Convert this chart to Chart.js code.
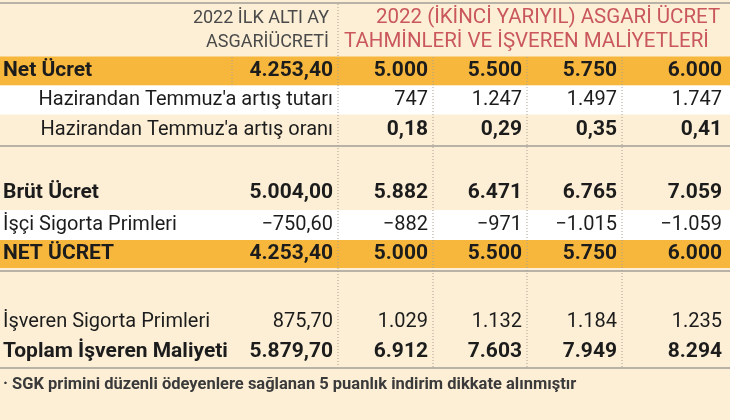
<!DOCTYPE html>
<html><head><meta charset="utf-8">
<script src="https://cdn.jsdelivr.net/npm/chart.js@4/dist/chart.umd.min.js"></script>
<style>html,body{margin:0;padding:0;background:#fcefd6}#wrap{width:730px;height:420px}</style>
</head><body><div id="wrap"><canvas id="c"></canvas></div>
<script>
// table data
const headerLeft = ['2022 İLK ALTI AY','ASGARİÜCRETİ'];
const headerRight = ['2022 (İKİNCİ YARIYIL) ASGARİ ÜCRET','TAHMİNLERİ VE İŞVEREN MALİYETLERİ'];
const rowLabels = ['Net Ücret','Hazirandan Temmuz\'a artış tutarı','Hazirandan Temmuz\'a artış oranı','','Brüt Ücret','İşçi Sigorta Primleri','NET ÜCRET','','İşveren Sigorta Primleri','Toplam İşveren Maliyeti'];
const firstHalf = ['4.253,40','','','','5.004,00','−750,60','4.253,40','','875,70','5.879,70'];
const scen1 = ['5.000','747','0,18','','5.882','−882','5.000','','1.029','6.912'];
const scen2 = ['5.500','1.247','0,29','','6.471','−971','5.500','','1.132','7.603'];
const scen3 = ['5.750','1.497','0,35','','6.765','−1.015','5.750','','1.184','7.949'];
const scen4 = ['6.000','1.747','0,41','','7.059','−1.059','6.000','','1.235','8.294'];
const footnote = '· SGK primini düzenli ödeyenlere sağlanan 5 puanlık indirim dikkate alınmıştır';

// layout
const rowY = [71,100,130,160,193,225,254,287,322,352];
const rowH = [29,29,30,30,31,30,28,36,33,29];
const rowBg = ['#f6b73c','#ffffff',null,null,null,'#ffffff','#f6b73c',null,null,null];
const boldRows = [0,4,6,9];
const labelRight = [false,true,true,false,false,false,false,false,false,false];
const colRight = [333,428,522,617,722];
const colSep = [338,433,527,622];
const cols = [firstHalf,scen1,scen2,scen3,scen4];
const FONT = 'Roboto,sans-serif';

const tablePlugin = {
  id:'table',
  afterDraw(chart){
    const ctx = chart.ctx, xs = chart.scales.x, ys = chart.scales.y;
    const X = v=>xs.getPixelForValue(v), Y = v=>ys.getPixelForValue(v);
    ctx.save();
    rowLabels.forEach((l,i)=>{
      if(!rowBg[i]) return;
      ctx.fillStyle = rowBg[i];
      ctx.fillRect(X(0), Y(rowY[i]-rowH[i]/2), X(730)-X(0), rowH[i]);
    });
    ctx.strokeStyle='#b9b2a6'; ctx.lineWidth=2;
    [3,146,271,368].forEach(y=>{ctx.beginPath();ctx.moveTo(X(0),Y(y));ctx.lineTo(X(730),Y(y));ctx.stroke();});
    ctx.strokeStyle='#a9a092'; ctx.lineWidth=1; ctx.setLineDash([1,2]);
    ctx.beginPath();ctx.moveTo(X(colSep[0]),Y(4));ctx.lineTo(X(colSep[0]),Y(367));ctx.stroke();
    colSep.slice(1).forEach(x=>{ctx.beginPath();ctx.moveTo(X(x),Y(57));ctx.lineTo(X(x),Y(367));ctx.stroke();});
    ctx.beginPath();ctx.moveTo(X(232),Y(57));ctx.lineTo(X(232),Y(85));ctx.stroke();
    ctx.setLineDash([]);
    ctx.textBaseline='middle';
    ctx.font='18px '+FONT; ctx.fillStyle='#4a4a4a'; ctx.textAlign='right';
    ctx.fillText(headerLeft[0],X(329),Y(18)); ctx.fillText(headerLeft[1],X(329),Y(42));
    ctx.font='20.5px '+FONT; ctx.fillStyle='#c9575b'; ctx.textAlign='left';
    ctx.fillText(headerRight[0],X(376),Y(18)); ctx.fillText(headerRight[1],X(344),Y(42));
    rowLabels.forEach((l,i)=>{
      const bold = boldRows.includes(i);
      ctx.fillStyle='#1c1c1c';
      ctx.font=(bold?'bold 21px ':'20px ')+FONT;
      ctx.textAlign = labelRight[i]?'right':'left';
      ctx.fillText(l, X(labelRight[i]?333:3), Y(rowY[i]));
      cols.forEach((c,j)=>{
        const b = bold || (i===2 && j>0);
        ctx.font=(b?'bold 21px ':'20px ')+FONT;
        ctx.textAlign='right';
        ctx.fillText(c[i], X(colRight[j]), Y(rowY[i]));
      });
    });
    ctx.font='bold 16.5px '+FONT; ctx.fillStyle='#3a3a3a'; ctx.textAlign='left';
    ctx.fillText(footnote, X(3), Y(385));
    ctx.restore();
  }
};

new Chart(document.getElementById('c'),{
  type:'scatter',
  data:{datasets:[{data:[],pointRadius:0}]},
  options:{
    responsive:true, maintainAspectRatio:false, animation:false,
    layout:{padding:0},
    plugins:{legend:{display:false},tooltip:{enabled:false}},
    scales:{
      x:{type:'linear',min:0,max:730,display:false},
      y:{type:'linear',min:0,max:420,reverse:true,display:false}
    }
  },
  plugins:[tablePlugin]
});
</script></body></html>
